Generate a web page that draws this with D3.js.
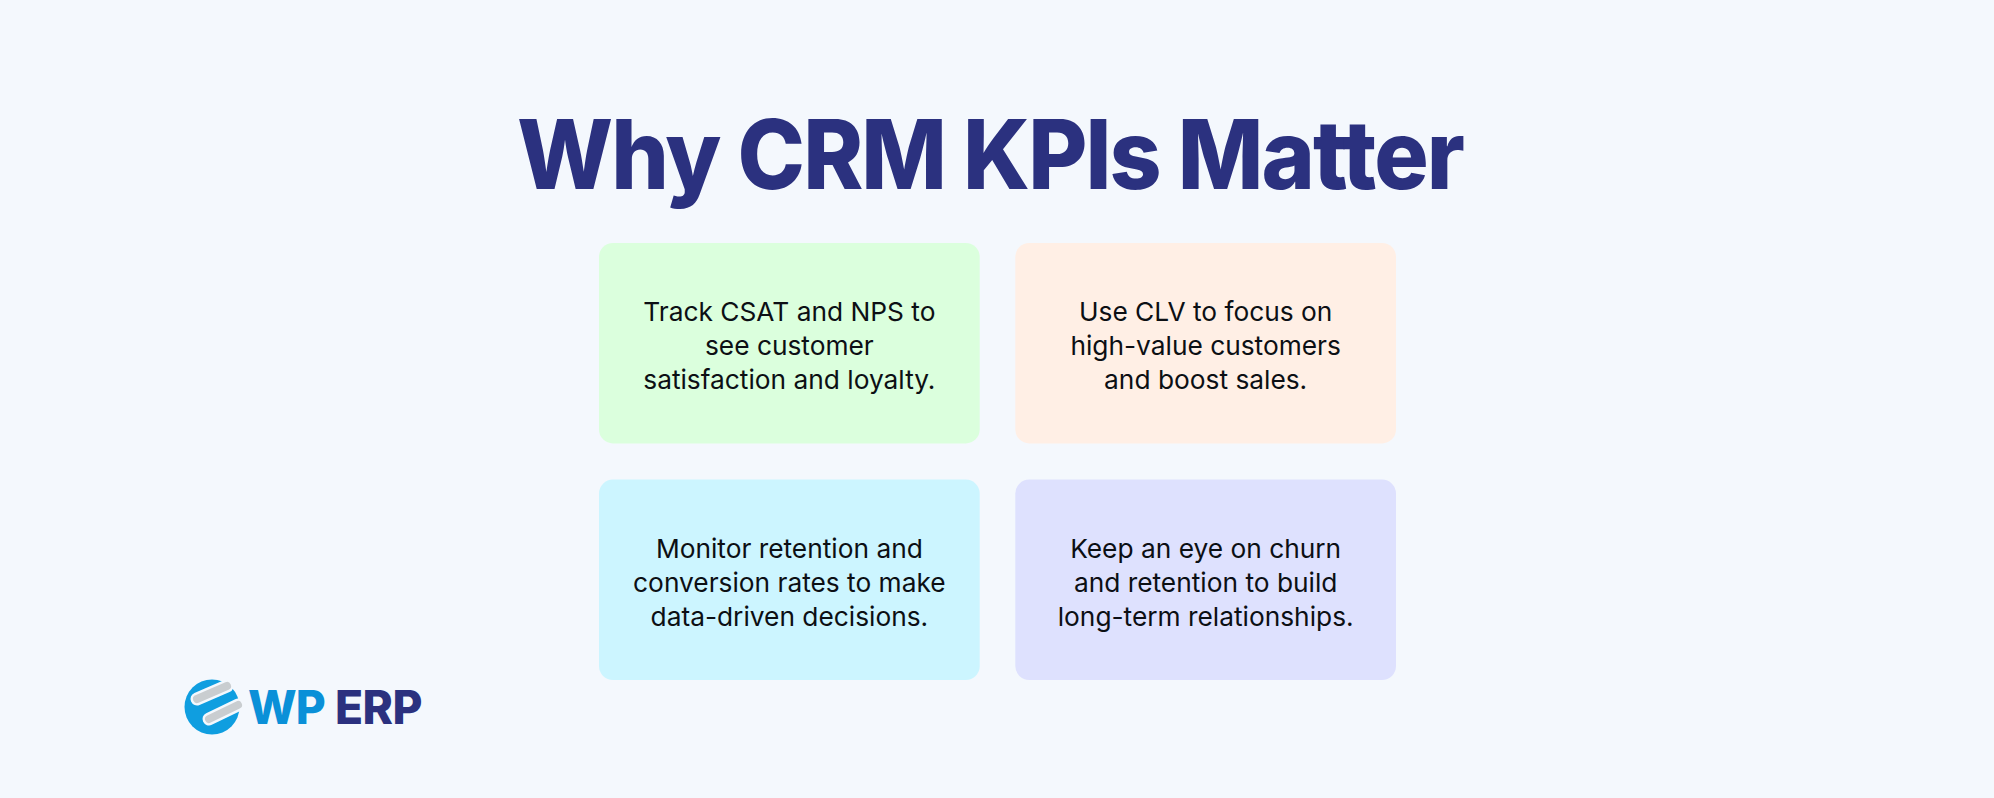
<!DOCTYPE html>
<html>
<head>
<meta charset="utf-8">
<script src="https://cdn.jsdelivr.net/npm/d3@7/dist/d3.min.js"></script>
<style>
html, body { margin: 0; padding: 0; background: #f4f8fd; }
svg { display: block; }
</style>
</head>
<body>
<svg id="chart" width="1994" height="798"></svg>
<script>
var titleText = "Why CRM KPIs Matter";

var cardColumns = [0, 1, 0, 1];
var cardRows = [0, 0, 1, 1];
var cardColors = ["#dbffdd", "#ffefe5", "#ccf5ff", "#dee1fe"];
var cardLines = [
    ["Track CSAT and NPS to", "see customer", "satisfaction and loyalty."],
    ["Use CLV to focus on", "high-value customers", "and boost sales."],
    ["Monitor retention and", "conversion rates to make", "data-driven decisions."],
    ["Keep an eye on churn", "and retention to build", "long-term relationships."]
];

var svg = d3.select("#chart");

var x = d3.scaleBand().domain([0, 1]).range([599, 1396]).paddingInner(0.0855);
var y = d3.scaleBand().domain([0, 1]).range([243, 680]).paddingInner(0.1525);

// title squeezed a little, Inter is wider than the original face
svg.append("text")
    .attr("transform", "translate(990,189) scale(0.946,1)")
    .attr("text-anchor", "middle")
    .attr("font-family", "Inter")
    .attr("font-weight", 800)
    .attr("font-size", 96)
    .attr("letter-spacing", -2)
    .attr("fill", "#2b317f")
    .text(titleText);

var cards = svg.selectAll("g.card")
    .data(cardLines)
    .enter()
    .append("g")
    .attr("class", "card")
    .attr("transform", function(d, i) {
        return "translate(" + x(cardColumns[i]) + "," + y(cardRows[i]) + ")";
    });

cards.append("rect")
    .attr("width", x.bandwidth())
    .attr("height", y.bandwidth())
    .attr("rx", 14)
    .attr("fill", function(d, i) { return cardColors[i]; });

cards.selectAll("text")
    .data(function(d) { return d; })
    .enter()
    .append("text")
    .attr("x", x.bandwidth() / 2)
    .attr("y", function(d, i) { return 78 + i * 34; })
    .attr("text-anchor", "middle")
    .attr("font-family", "Inter")
    .attr("font-size", 26.3)
    .attr("fill", "#0c0f14")
    .text(function(d) { return d; });

// logo
var logo = svg.append("g").attr("transform", "translate(212,707)");
logo.append("circle").attr("r", 27.5).attr("fill", "#0f9ee0");
var swooshes = [[-15, -8, 15, -21], [-3, 12, 26, -2]];
logo.selectAll("line.edge").data(swooshes).enter().append("line")
    .attr("class", "edge")
    .attr("x1", function(d) { return d[0]; }).attr("y1", function(d) { return d[1]; })
    .attr("x2", function(d) { return d[2]; }).attr("y2", function(d) { return d[3]; })
    .attr("stroke", "#f4f8fd").attr("stroke-width", 13).attr("stroke-linecap", "round");
logo.selectAll("line.fill").data(swooshes).enter().append("line")
    .attr("class", "fill")
    .attr("x1", function(d) { return d[0]; }).attr("y1", function(d) { return d[1]; })
    .attr("x2", function(d) { return d[2]; }).attr("y2", function(d) { return d[3]; })
    .attr("stroke", "#c9cdd0").attr("stroke-width", 8).attr("stroke-linecap", "round");

svg.append("text")
    .attr("x", 248)
    .attr("y", 724)
    .attr("font-family", "Inter")
    .attr("font-weight", 800)
    .attr("font-size", 46)
    .attr("letter-spacing", -1)
    .attr("fill", "#0a90d8")
    .text("WP");
svg.append("text")
    .attr("x", 335)
    .attr("y", 724)
    .attr("font-family", "Inter")
    .attr("font-weight", 800)
    .attr("font-size", 46)
    .attr("letter-spacing", -0.5)
    .attr("fill", "#2b317f")
    .text("ERP");
</script>
</body>
</html>
